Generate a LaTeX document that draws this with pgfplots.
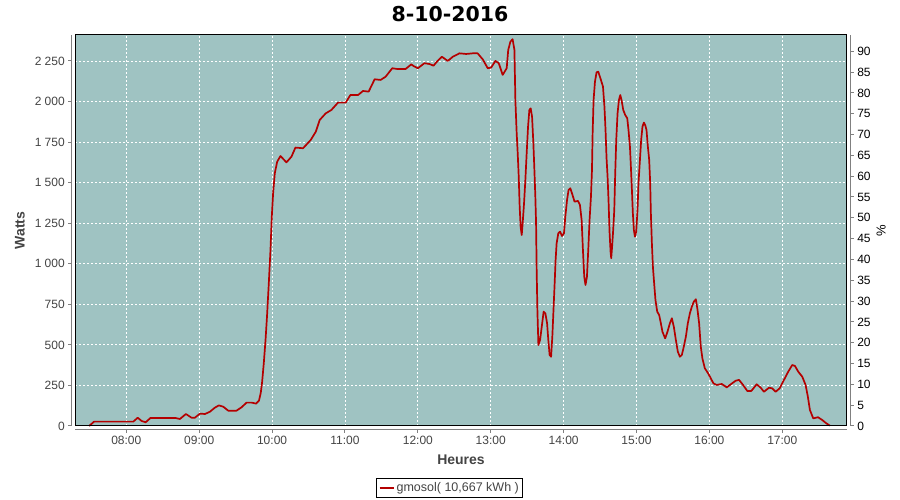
\documentclass[border=0pt]{standalone}
\usepackage{fontspec}
\setmainfont{Liberation Sans}
\newfontfamily\titlefont{DejaVu Sans}
\usepackage{pgfplots}
\pgfplotsset{compat=1.18}
\definecolor{plotbg}{RGB}{159,195,194}
\definecolor{linered}{RGB}{180,0,0}
\definecolor{axgray}{RGB}{128,128,128}
\definecolor{labgray}{RGB}{68,68,68}
\begin{document}
\begin{tikzpicture}
\path[use as bounding box, fill=white] (0,0) rectangle (900pt,500pt);
\begin{axis}[
  at={(75.3pt,74pt)}, anchor=south west,
  scale only axis, width=771.4pt, height=391pt,
  xmin=7.300, xmax=17.884, ymin=0, ymax=2410,
  axis lines=left,
  axis line shift=4pt,
  axis line style={draw=axgray, line width=1pt, -},
  axis background/.style={fill=plotbg},
  clip=false,
  tick align=outside, major tick length=3pt,
  tick style={draw=axgray, line width=1pt},
  xtick={8,9,10,11,12,13,14,15,16,17},
  xticklabels={08:00,09:00,10:00,11:00,12:00,13:00,14:00,15:00,16:00,17:00},
  ytick={0,250,500,750,1000,1250,1500,1750,2000,2250},
  /pgf/number format/assume math mode=true,
  /pgf/number format/1000 sep={\hspace{3.3pt}},
  tick label style={font=\fontsize{12}{14}\selectfont, text=labgray},
  grid=major,
  major grid style={white, line width=0.8pt, dash pattern=on 2pt off 2pt},
  title={\titlefont\bfseries 8-10-2016},
  every axis title/.style={at={(axis description cs:0.4857,1)}, anchor=center, yshift=21pt, font=\fontsize{20.5}{24}\selectfont},
  xlabel={\bfseries Heures},
  every axis x label/.style={at={(axis description cs:0.5,0)}, anchor=center, yshift=-34pt, font=\fontsize{14}{16}\selectfont, text=labgray},
  ylabel={\bfseries Watts},
  every axis y label/.style={at={(axis description cs:-0.0717,0.5)}, anchor=center, rotate=90, font=\fontsize{14}{16}\selectfont, text=labgray},
  legend style={at={(axis description cs:0.4854,-0.1586)}, anchor=center, draw=black, line width=0.8pt, inner xsep=2pt, inner ysep=2.5pt, font=\fontsize{12.5}{14}\selectfont, text=labgray, fill=white},
  legend image code/.code={\draw[#1, line width=2pt] (0pt,0pt) -- (14pt,0pt);},
]
\addplot[linered, line width=1.7pt, line join=round] coordinates {
(7.489,0) (7.558,27) (8.096,27) (8.156,51) (8.21,31) (8.266,23) (8.33,49) (8.68,49)
(8.735,43) (8.818,74) (8.895,51) (8.94,51) (9.01,76) (9.08,74) (9.147,88) (9.215,113)
(9.27,127) (9.33,119) (9.40,94) (9.51,94) (9.58,115) (9.65,144) (9.72,144) (9.78,138)
(9.82,156) (9.845,205) (9.863,270) (9.886,386) (9.91,530) (9.93,673) (9.955,880)
(9.978,1085) (9.996,1290) (10.014,1434) (10.037,1558) (10.07,1629) (10.115,1664)
(10.197,1625) (10.266,1660) (10.32,1716) (10.425,1712) (10.53,1763) (10.60,1814)
(10.653,1886) (10.736,1927) (10.814,1948) (10.904,1993) (11.01,1993) (11.074,2040)
(11.18,2040) (11.247,2065) (11.325,2061) (11.407,2137) (11.489,2133) (11.558,2153)
(11.649,2205) (11.726,2200) (11.83,2200) (11.91,2229) (11.94,2219) (12.0,2205)
(12.09,2236) (12.16,2231) (12.215,2221) (12.274,2252) (12.33,2276) (12.41,2250)
(12.48,2276) (12.571,2297) (12.663,2293) (12.753,2297) (12.82,2297) (12.89,2260)
(12.959,2205) (13.005,2209) (13.064,2250) (13.11,2236) (13.164,2164) (13.219,2205)
(13.24,2318) (13.27,2369) (13.30,2384) (13.325,2318) (13.338,2009) (13.356,1804)
(13.37,1681) (13.384,1537) (13.397,1352) (13.41,1228) (13.425,1177) (13.438,1249)
(13.457,1373) (13.475,1516) (13.493,1681) (13.512,1845) (13.53,1948) (13.548,1958)
(13.567,1907) (13.585,1742) (13.599,1578) (13.612,1413) (13.622,1249) (13.63,962)
(13.64,715) (13.654,499) (13.677,530) (13.70,612) (13.726,705) (13.75,694)
(13.773,633) (13.79,530) (13.808,438) (13.828,427) (13.845,550) (13.859,694)
(13.877,880) (13.89,1023) (13.904,1126) (13.927,1188) (13.951,1198) (13.978,1171)
(14.005,1188) (14.023,1290) (14.047,1393) (14.068,1455) (14.092,1465) (14.115,1434)
(14.15,1383) (14.197,1387) (14.224,1362) (14.247,1270) (14.265,1085) (14.283,920)
(14.30,869) (14.32,920) (14.338,1085) (14.356,1270) (14.375,1413) (14.389,1578)
(14.398,1804) (14.411,2009) (14.43,2122) (14.452,2180) (14.475,2184) (14.50,2150)
(14.54,2092) (14.56,1968) (14.575,1825) (14.589,1650) (14.603,1537) (14.616,1393)
(14.63,1198) (14.644,1075) (14.653,1034) (14.667,1116) (14.68,1208) (14.695,1331)
(14.708,1558) (14.722,1763) (14.74,1927) (14.759,2009) (14.777,2040) (14.795,2009)
(14.818,1948) (14.845,1917) (14.873,1897) (14.89,1825) (14.91,1722) (14.923,1598)
(14.937,1455) (14.95,1311) (14.964,1208) (14.978,1167) (14.996,1198) (15.014,1331)
(15.027,1496) (15.047,1640) (15.064,1763) (15.082,1845) (15.101,1870) (15.119,1855)
(15.137,1825) (15.156,1722) (15.174,1640) (15.188,1496) (15.197,1311) (15.211,1126)
(15.225,982) (15.242,880) (15.26,777) (15.284,705) (15.311,684) (15.334,633)
(15.356,581) (15.393,540) (15.425,581) (15.458,633) (15.485,664) (15.512,612)
(15.54,530) (15.567,458) (15.595,427) (15.622,438) (15.649,489) (15.677,550)
(15.704,633) (15.732,694) (15.759,735) (15.786,766) (15.814,781) (15.836,720)
(15.859,633) (15.882,489) (15.904,417) (15.937,356) (15.982,325) (16.019,294)
(16.055,263) (16.10,253) (16.17,259) (16.238,238) (16.30,259) (16.36,279)
(16.407,284) (16.462,253) (16.52,216) (16.575,216) (16.649,257) (16.704,236)
(16.749,211) (16.818,236) (16.863,232) (16.909,211) (16.964,232) (17.023,284)
(17.082,335) (17.137,376) (17.174,370) (17.219,335) (17.274,304) (17.32,253)
(17.351,181) (17.379,99) (17.425,47) (17.49,54) (17.548,37) (17.603,17) (17.653,2)
};
\addlegendentry{gmosol( 10,667 kWh )}
\draw[black, line width=1pt] (rel axis cs:0,0) rectangle (rel axis cs:1,1);
\end{axis}
\begin{axis}[
  at={(75.3pt,74pt)}, anchor=south west,
  scale only axis, width=771.4pt, height=391pt,
  xmin=7.300, xmax=17.884, ymin=0, ymax=93.9,
  axis x line=none, axis y line=right,
  axis line shift=4pt,
  axis line style={draw=axgray, line width=1pt, -},
  tick align=outside, major tick length=3pt,
  tick style={draw=axgray, line width=1pt},
  ytick={0,5,10,15,20,25,30,35,40,45,50,55,60,65,70,75,80,85,90},
  /pgf/number format/assume math mode=true,
  tick label style={font=\fontsize{12}{14}\selectfont, text=black},
  ylabel={\%},
  every axis y label/.style={at={(axis description cs:1.0445,0.5)}, anchor=center, rotate=90, font=\fontsize{13}{15}\selectfont, text=black},
]
\end{axis}
\end{tikzpicture}
\end{document}
